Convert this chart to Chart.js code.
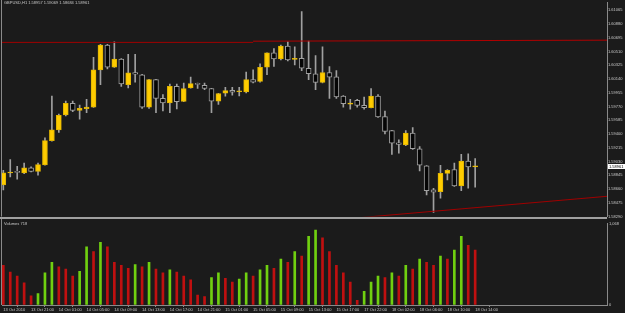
<!DOCTYPE html>
<html>
<head>
<meta charset="utf-8">
<script src="https://cdn.jsdelivr.net/npm/chart.js@4/dist/chart.umd.min.js"></script>
<style>
  html, body { margin: 0; padding: 0; background: #1b1b1b; overflow: hidden; }
  #wrap { position: relative; width: 625px; height: 313px; }
  #priceChart { position: absolute; left: 0; top: 0; }
  #volumeChart { position: absolute; left: 0; top: 219px; }
</style>
</head>
<body>
<div id="wrap">
  <canvas id="priceChart" width="625" height="219"></canvas>
  <canvas id="volumeChart" width="625" height="94"></canvas>
</div>
<script>
// GBPUSD H1 candles, 13 Oct 17:00 -> 18 Oct 14:00
const symbol = 'GBPUSD,H1';
const opens = [1.58714,1.58876,1.58887,1.58878,1.58944,1.58896,1.58984,1.59312,1.59454,1.59657,
  1.59812,1.59719,1.59741,1.59763,1.60264,1.60596,1.60299,1.60410,1.60065,1.60228,
  1.60198,1.59763,1.60131,1.59879,1.59820,1.60042,1.59839,1.60020,1.60075,1.60056,
  1.60012,1.59843,1.59949,1.59989,1.59969,1.59967,1.60131,1.60109,1.60299,1.60494,
  1.60410,1.60583,1.60405,1.60418,1.60285,1.60211,1.60095,1.60228,1.60171,1.59909,
  1.59803,1.59852,1.59786,1.59754,1.59909,1.59635,1.59445,1.59281,1.59255,1.59414,
  1.59202,1.58971,1.58648,1.58625,1.58870,1.58923,1.58701,1.59037,1.58957];
const highs = [1.58913,1.59056,1.58967,1.59010,1.58957,1.59010,1.59348,1.59909,1.59667,1.59843,
  1.59843,1.59790,1.59866,1.60431,1.60607,1.60607,1.60640,1.60414,1.60471,1.60471,
  1.60202,1.60135,1.60135,1.59932,1.60073,1.60073,1.60086,1.60166,1.60086,1.60086,
  1.60016,1.59949,1.60029,1.60029,1.60029,1.60232,1.60264,1.60344,1.60494,1.60551,
  1.60596,1.60640,1.60573,1.61048,1.60649,1.60454,1.60573,1.60308,1.60255,1.59916,
  1.59866,1.59866,1.59896,1.60012,1.59932,1.59710,1.59451,1.59321,1.59445,1.59488,
  1.59232,1.58976,1.58670,1.58980,1.58923,1.59010,1.59126,1.59135,1.59069];
const lows = [1.58648,1.58824,1.58794,1.58867,1.58891,1.58847,1.58980,1.59305,1.59422,1.59644,
  1.59701,1.59600,1.59688,1.59757,1.60065,1.60277,1.60295,1.60042,1.60020,1.60099,
  1.59746,1.59746,1.59688,1.59710,1.59688,1.59737,1.59834,1.60016,1.60012,1.59998,
  1.59688,1.59799,1.59909,1.59923,1.59913,1.59953,1.60086,1.60099,1.60198,1.60308,
  1.60397,1.60384,1.60330,1.60251,1.60131,1.59998,1.60086,1.59879,1.59879,1.59763,
  1.59733,1.59763,1.59733,1.59750,1.59624,1.59401,1.59126,1.59143,1.59245,1.59192,
  1.58904,1.58581,1.58346,1.58538,1.58781,1.58694,1.58639,1.58670,1.58684];
const closes = [1.58878,1.58883,1.58884,1.58944,1.58896,1.58989,1.59312,1.59458,1.59653,1.59812,
  1.59719,1.59746,1.59763,1.60264,1.60596,1.60299,1.60410,1.60073,1.60224,1.60206,
  1.59763,1.60131,1.59879,1.59820,1.60042,1.59834,1.60012,1.60078,1.60069,1.60012,
  1.59843,1.59945,1.59985,1.59963,1.59973,1.60131,1.60099,1.60299,1.60494,1.60410,
  1.60583,1.60397,1.60414,1.60285,1.60211,1.60095,1.60228,1.60166,1.59900,1.59807,
  1.59816,1.59786,1.59754,1.59909,1.59631,1.59435,1.59276,1.59259,1.59414,1.59202,
  1.58980,1.58639,1.58617,1.58870,1.58913,1.58701,1.59037,1.58957,1.58961];
const volumes = [520,430,380,290,120,150,420,560,500,470,
  380,440,760,700,820,760,560,520,480,530,
  500,560,470,420,460,430,380,330,130,110,
  360,420,350,300,340,420,380,460,520,480,
  600,560,700,640,900,980,880,700,520,420,
  300,60,180,300,380,360,420,380,520,470,
  600,560,520,640,600,720,900,780,718];

const priceTicks = [1.61065,1.60880,1.60695,1.60510,1.60325,1.60140,1.59955,1.59770,
  1.59585,1.59400,1.59215,1.59030,1.58845,1.58660,1.58475,1.58290];
const timeTickBars = [0,4,8,12,16,20,24,28,32,36,40,44,48,52,56,60,64,68];
const timeTickLabels = ['13 Oct 2010','13 Oct 21:00','14 Oct 01:00','14 Oct 05:00','14 Oct 09:00',
  '14 Oct 13:00','14 Oct 17:00','14 Oct 21:00','15 Oct 01:00','15 Oct 05:00','15 Oct 09:00',
  '15 Oct 13:00','15 Oct 17:00','17 Oct 22:00','18 Oct 02:00','18 Oct 06:00','18 Oct 10:00','18 Oct 14:00'];
const volumeMax = 1068;

// drawn lines (bar index, price)
const resistanceBars = [-0.2, 36];
const resistancePrices = [1.60633, 1.60633];
const resistance2Bars = [36, 87];
const resistance2Prices = [1.60649, 1.60663];
const trendBars = [51.5, 87];
const trendPrices = [1.58276, 1.58562];

const priceMin = 1.58289, priceMax = 1.61171;
const barMin = -0.19, barMax = 87;

const axisGrey = '#8a8a8a';
const textGrey = '#c8c8c8';
const bull = '#ffcc00';
const font4 = { size: 4, family: "'Liberation Sans', Arial, sans-serif" };

const bars = closes.map((c, i) => i);
const last = closes.length - 1;
const fmt = v => v.toFixed(5);

const frame = {
    id: 'frame',
    afterDraw(chart, args, opts) {
        const { ctx, chartArea: a } = chart;
        ctx.save();
        ctx.strokeStyle = axisGrey;
        ctx.lineWidth = 1;
        ctx.beginPath();
        ctx.moveTo(1.5, 0);
        ctx.lineTo(1.5, a.bottom);
        ctx.stroke();
        if (opts.separator) {
            ctx.strokeStyle = '#a0a0a0';
            ctx.lineWidth = 2;
            ctx.beginPath();
            ctx.moveTo(0, chart.height - 1);
            ctx.lineTo(a.right, chart.height - 1);
            ctx.stroke();
        }
        ctx.fillStyle = textGrey;
        ctx.font = "4px 'Liberation Sans', Arial, sans-serif";
        ctx.textBaseline = 'middle';
        ctx.textAlign = 'left';
        if (opts.caption) ctx.fillText(opts.caption, 4, opts.captionY);
        ctx.restore();
    }
};

const priceTag = {
    id: 'priceTag',
    afterDraw(chart) {
        const { ctx, chartArea: a } = chart;
        const y = chart.scales.y.getPixelForValue(closes[last]);
        ctx.save();
        ctx.fillStyle = '#ffffff';
        ctx.fillRect(a.right + 1, Math.round(y) - 3, 17, 5);
        ctx.fillStyle = '#000000';
        ctx.font = "4px 'Liberation Sans', Arial, sans-serif";
        ctx.textBaseline = 'middle';
        ctx.fillText(fmt(closes[last]), a.right + 2, Math.round(y) - 0.5);
        ctx.restore();
    }
};

const lineSet = (xs, ys, color) => ({
    type: 'line',
    data: xs.map((x, i) => ({ x: x, y: ys[i] })),
    borderColor: color,
    borderWidth: 1,
    pointRadius: 0,
    order: 1
});

new Chart(document.getElementById('priceChart'), {
    type: 'bar',
    data: {
        datasets: [
            {
                data: bars.map(i => ({ x: i, y: [lows[i], highs[i]] })),
                backgroundColor: '#a0a0a0',
                barThickness: 1,
                grouped: false,
                order: 3
            },
            {
                data: bars.map(i => ({ x: i, y: [opens[i], closes[i]] })),
                backgroundColor: bars.map(i => closes[i] >= opens[i] ? bull : '#050505'),
                borderColor: bars.map(i => closes[i] >= opens[i] ? '#e0b400' : '#a0a0a0'),
                borderWidth: 1,
                borderSkipped: false,
                minBarLength: 1,
                barThickness: 5,
                grouped: false,
                order: 2
            },
            lineSet(resistanceBars, resistancePrices, '#a00000'),
            lineSet(resistance2Bars, resistance2Prices, '#b00000'),
            lineSet(trendBars, trendPrices, '#a00000')
        ]
    },
    options: {
        responsive: false,
        animation: false,
        layout: { padding: { left: 2, top: 0, right: 0, bottom: 2 } },
        plugins: {
            legend: { display: false },
            tooltip: { enabled: false },
            frame: {
                separator: true,
                caption: `${symbol} ${fmt(opens[last])} ${fmt(highs[last])} ${fmt(lows[last])} ${fmt(closes[last])}`,
                captionY: 3
            }
        },
        scales: {
            x: { type: 'linear', display: false, offset: false, min: barMin, max: barMax },
            y: {
                type: 'linear',
                position: 'right',
                min: priceMin,
                max: priceMax,
                afterFit: s => { s.width = 18; },
                afterBuildTicks: s => { s.ticks = priceTicks.map(v => ({ value: v })); },
                grid: { drawOnChartArea: false, drawTicks: true, tickLength: 1, color: axisGrey },
                border: { display: true, color: axisGrey },
                ticks: { autoSkip: false, color: textGrey, font: font4, padding: 0, callback: v => fmt(v) }
            }
        }
    },
    plugins: [frame, priceTag]
});

new Chart(document.getElementById('volumeChart'), {
    type: 'bar',
    data: {
        datasets: [{
            data: bars.map(i => ({ x: i, y: volumes[i] })),
            backgroundColor: bars.map(i => i > 0 && volumes[i] > volumes[i - 1] ? '#70d010' : '#c01010'),
            barThickness: 2
        }]
    },
    options: {
        responsive: false,
        animation: false,
        layout: { padding: { left: 2, top: 1, right: 0, bottom: 0 } },
        plugins: {
            legend: { display: false },
            tooltip: { enabled: false },
            frame: { caption: `Volumes ${volumes[last]}`, captionY: 5 }
        },
        scales: {
            x: {
                type: 'linear',
                offset: false,
                min: barMin,
                max: barMax,
                afterFit: s => { s.height = 8; },
                afterBuildTicks: s => { s.ticks = timeTickBars.map(v => ({ value: v })); },
                grid: { drawOnChartArea: false, drawTicks: true, tickLength: 2, color: axisGrey },
                border: { display: true, color: axisGrey },
                ticks: {
                    autoSkip: false, maxRotation: 0, align: 'start', padding: 0,
                    color: textGrey, font: font4,
                    callback: (v, i) => timeTickLabels[i]
                }
            },
            y: {
                type: 'linear',
                position: 'right',
                min: 0,
                max: volumeMax,
                afterFit: s => { s.width = 18; },
                afterBuildTicks: s => { s.ticks = [{ value: 0 }, { value: volumeMax }]; },
                grid: { drawOnChartArea: false, drawTicks: false },
                border: { display: true, color: axisGrey },
                ticks: { color: textGrey, font: font4, padding: 2 }
            }
        }
    },
    plugins: [frame]
});
</script>
</body>
</html>
